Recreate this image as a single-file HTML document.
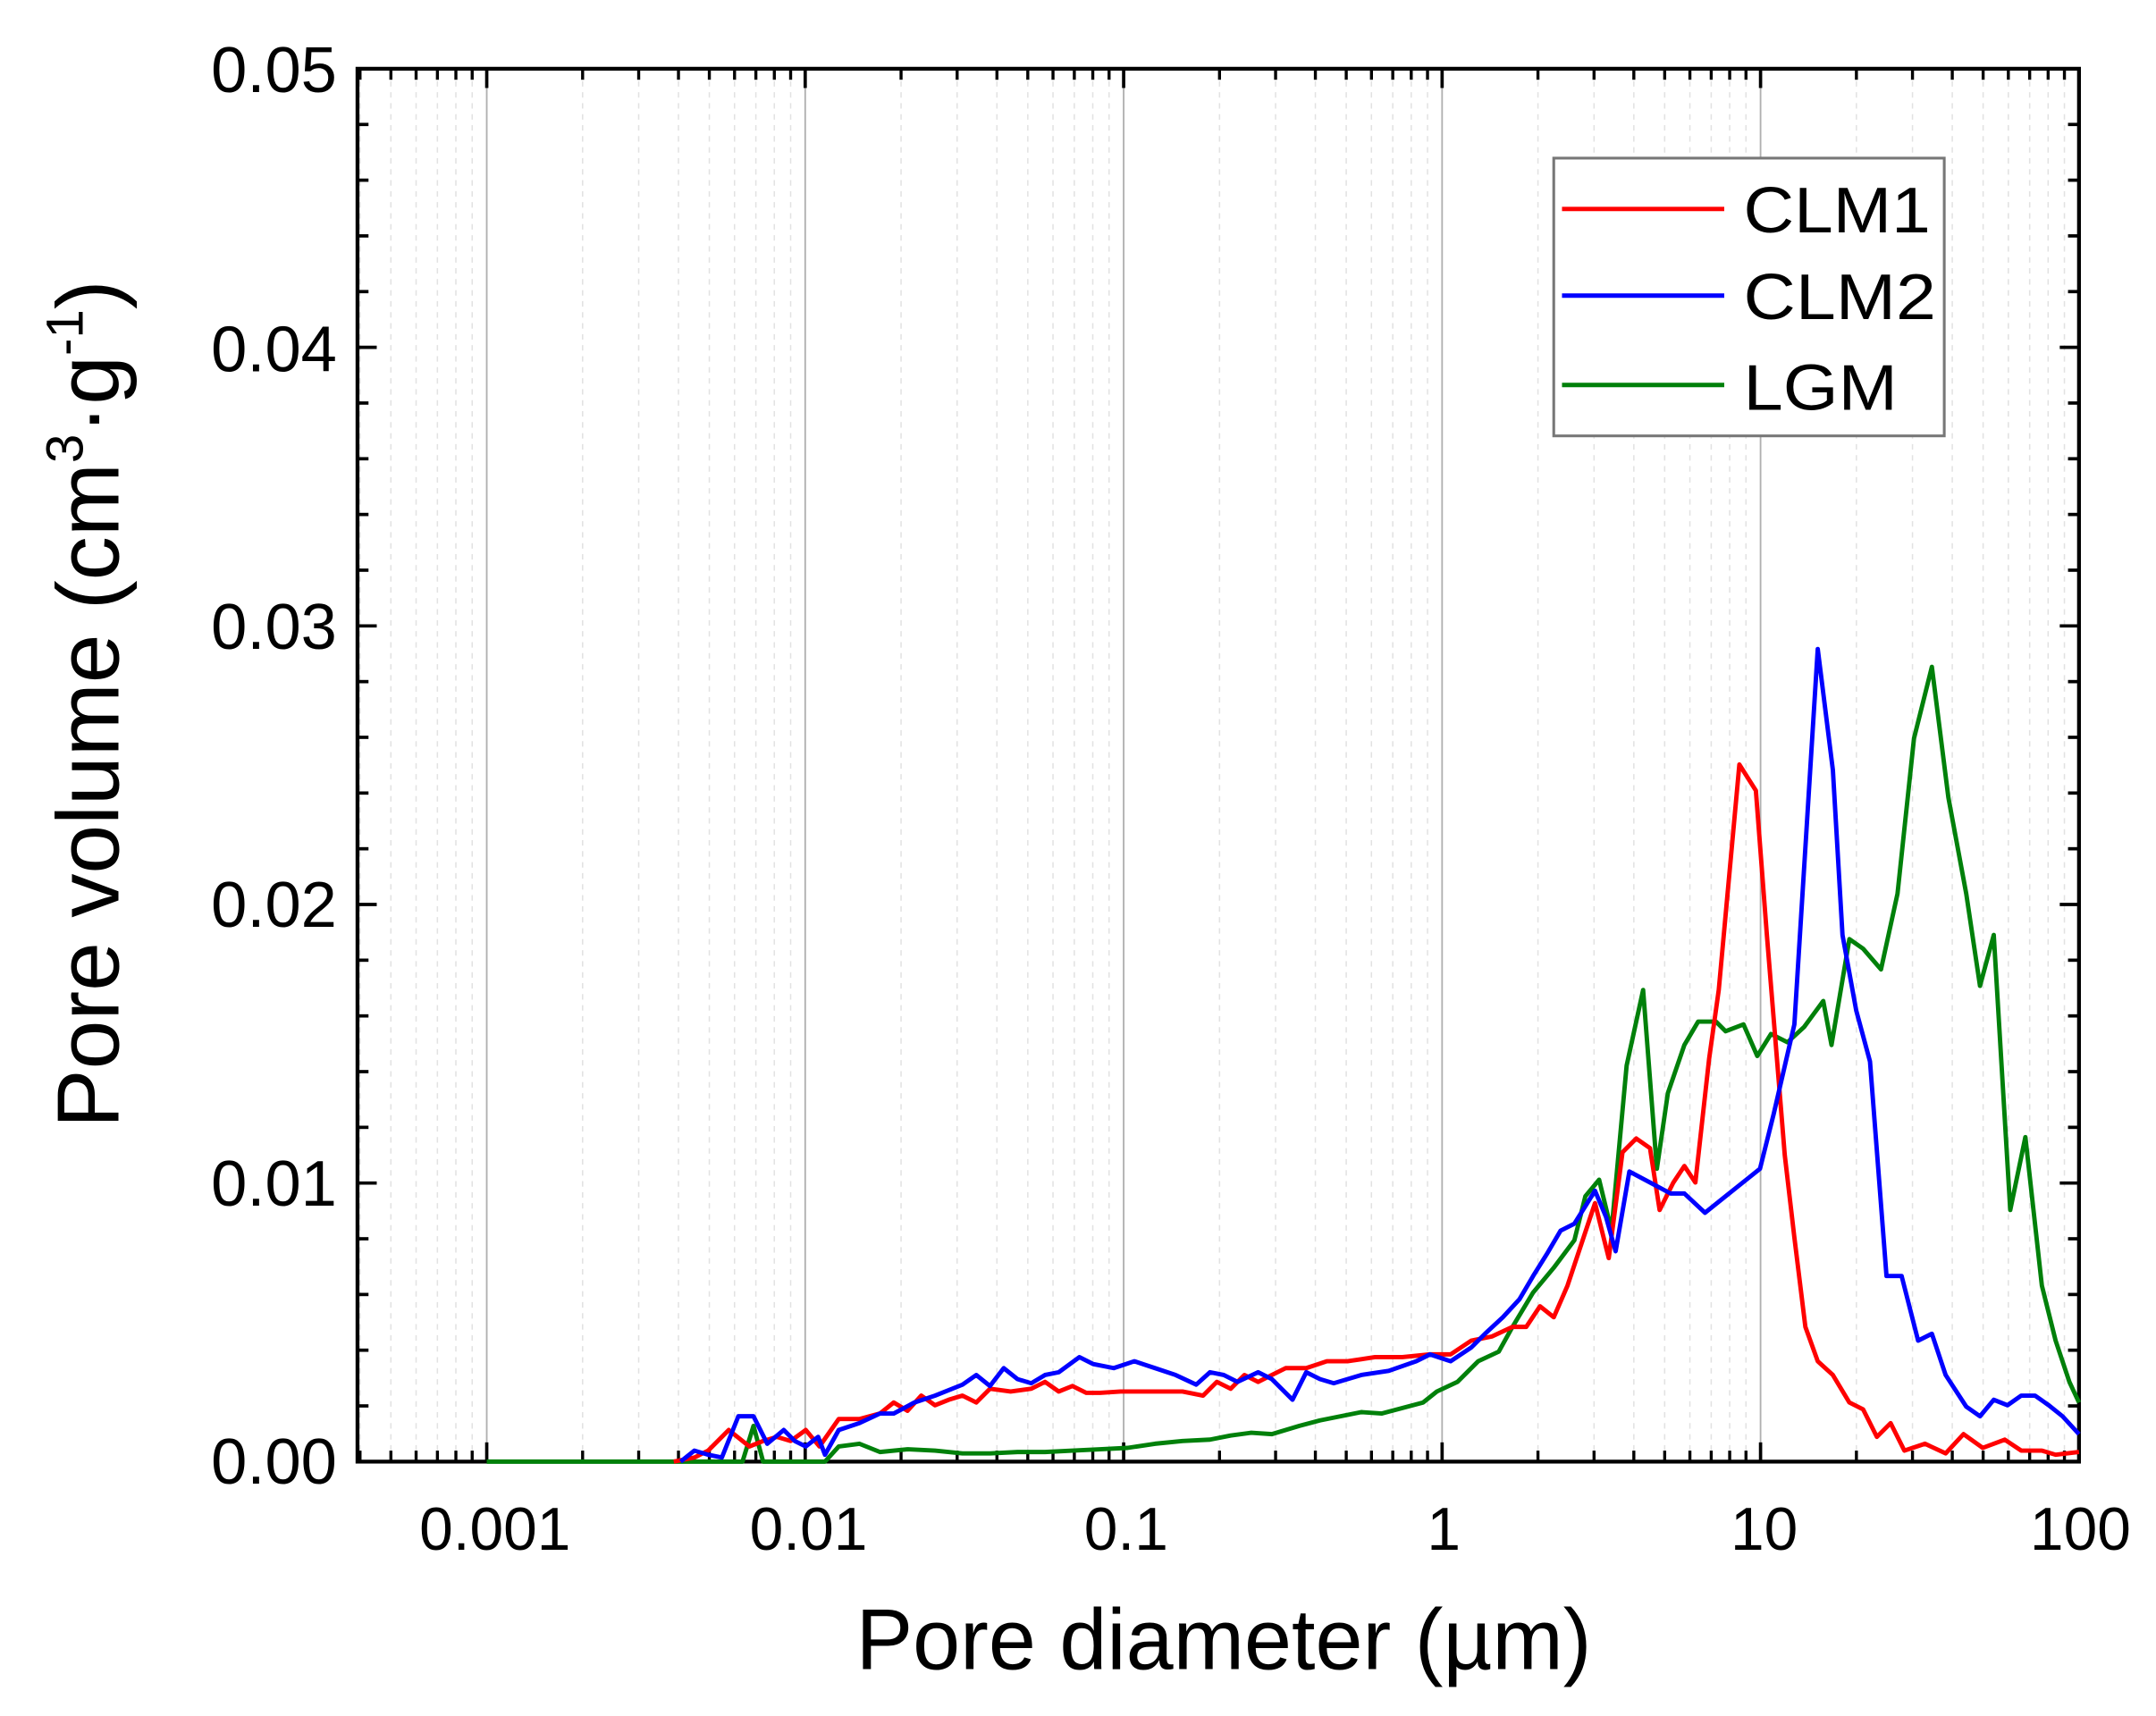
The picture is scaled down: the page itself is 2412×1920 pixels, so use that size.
<!DOCTYPE html>
<html><head><meta charset="utf-8"><style>
html,body{margin:0;padding:0;background:#fff;}
svg{display:block;}
text{font-family:"Liberation Sans",Arial,sans-serif;fill:#000;}
</style></head><body>
<svg id="s" width="2412" height="1920" viewBox="0 0 1568 1248" preserveAspectRatio="none" xmlns="http://www.w3.org/2000/svg">
<rect x="0" y="0" width="1568" height="1248" fill="#fff"/>
<g id="grid"></g>
<g id="ticks"></g>
<rect x="260" y="50" width="1252" height="1013" fill="none" stroke="#000" stroke-width="2.8"/>
<g font-size="47" text-anchor="end">
<text x="245" y="1079">0.00</text>
<text x="245" y="877">0.01</text>
<text x="245" y="674">0.02</text>
<text x="245" y="472">0.03</text>
<text x="245" y="270">0.04</text>
<text x="245" y="67">0.05</text>
</g>
<g font-size="44" text-anchor="middle">
<text x="360" y="1127">0.001</text>
<text x="588" y="1127">0.01</text>
<text x="819" y="1127">0.1</text>
<text x="1050" y="1127">1</text>
<text x="1283" y="1127">10</text>
<text x="1513" y="1127">100</text>
</g>
<text x="890" y="1214" font-size="63" text-anchor="middle" textLength="535" lengthAdjust="spacingAndGlyphs">Pore diameter (µm)</text>
<text transform="translate(86,512) rotate(-90)" font-size="64" text-anchor="middle">Pore volume (cm<tspan font-size="38" dy="-26">3</tspan><tspan dy="26">·g</tspan><tspan font-size="38" dy="-26">-1</tspan><tspan dy="26">)</tspan></text>
<g fill="none" stroke-width="3.2" stroke-linejoin="round">
<polyline stroke="#00800a" points="354,1063 540,1063 548,1037 555,1063 600,1063 610,1052 625,1050 640,1056 660,1054 680,1055 700,1057 720,1057 740,1056 760,1056 780,1055 800,1054 820,1053 840,1050 860,1048 880,1047 895,1044 910,1042 925,1043 945,1037 960,1033 975,1030 990,1027 1005,1028 1020,1024 1035,1020 1045,1012 1060,1005 1075,990 1090,983 1100,965 1115,940 1130,922 1145,902 1153,870 1163,858 1172,895 1183,775 1195,720 1205,850 1213,795 1225,760 1235,743 1248,743 1255,750 1268,745 1278,768 1288,752 1300,758 1312,747 1326,728 1332,760 1345,683 1355,690 1368,705 1380,650 1392,537 1405,485 1417,580 1430,650 1440,717 1450,680 1462,880 1473,827 1485,935 1495,975 1505,1005 1512,1020"/>
<polyline stroke="#ff0000" points="490,1063 505,1060 515,1055 530,1040 545,1052 555,1048 565,1045 575,1048 586,1040 596,1052 610,1032 625,1032 640,1028 650,1020 660,1026 670,1015 680,1022 690,1018 700,1015 710,1020 720,1010 735,1012 750,1010 760,1005 770,1012 780,1008 790,1013 800,1013 815,1012 830,1012 845,1012 860,1012 875,1015 885,1005 895,1010 905,1000 915,1005 925,1000 935,995 950,995 965,990 980,990 1000,987 1020,987 1040,985 1055,985 1070,975 1085,972 1100,965 1110,965 1120,950 1130,958 1140,935 1150,905 1160,875 1170,915 1180,838 1190,828 1200,835 1207,880 1217,860 1225,848 1233,860 1243,770 1250,720 1265,556 1277,575 1285,680 1298,840 1305,900 1313,965 1322,990 1333,1000 1345,1020 1355,1025 1365,1045 1375,1035 1385,1055 1400,1050 1415,1057 1428,1043 1442,1053 1458,1047 1470,1055 1485,1055 1495,1058 1512,1056"/>
<polyline stroke="#0000ff" points="495,1063 505,1055 515,1058 525,1060 537,1030 548,1030 558,1050 570,1040 578,1048 586,1052 595,1045 600,1058 610,1040 625,1035 640,1028 650,1028 665,1020 680,1015 700,1007 710,1000 720,1008 730,995 740,1003 750,1006 760,1000 770,998 785,987 795,992 810,995 825,990 840,995 855,1000 870,1007 880,998 890,1000 900,1005 915,998 925,1003 940,1018 950,998 960,1003 970,1006 990,1000 1010,997 1030,990 1040,985 1055,990 1070,980 1080,970 1093,958 1105,945 1115,928 1125,912 1135,895 1145,890 1160,866 1168,885 1175,910 1185,852 1200,860 1215,868 1225,868 1240,882 1255,870 1270,858 1280,850 1290,810 1305,745 1322,472 1333,560 1340,680 1350,735 1360,772 1372,928 1383,928 1395,975 1405,970 1415,1000 1430,1023 1440,1030 1450,1018 1460,1022 1470,1015 1480,1015 1490,1022 1500,1030 1512,1043"/>
</g>
<rect x="1130" y="115" width="284" height="202" fill="#fff" stroke="#777" stroke-width="2"/>
<line x1="1136" y1="152" x2="1254" y2="152" stroke="#ff0000" stroke-width="3.2"/>
<line x1="1136" y1="215" x2="1254" y2="215" stroke="#0000ff" stroke-width="3.2"/>
<line x1="1136" y1="280" x2="1254" y2="280" stroke="#00800a" stroke-width="3.2"/>
<g font-size="47">
<text x="1268" y="169" textLength="136" lengthAdjust="spacingAndGlyphs">CLM1</text>
<text x="1268" y="232" textLength="140" lengthAdjust="spacingAndGlyphs">CLM2</text>
<text x="1268" y="298" textLength="112" lengthAdjust="spacingAndGlyphs">LGM</text>
</g>
</svg>
<script>
(function(){
var NS="http://www.w3.org/2000/svg";
var g=document.getElementById("grid"),t=document.getElementById("ticks");
function L(p,x1,y1,x2,y2,st,w,da){var l=document.createElementNS(NS,"line");l.setAttribute("x1",x1);l.setAttribute("y1",y1);l.setAttribute("x2",x2);l.setAttribute("y2",y2);l.setAttribute("stroke",st);l.setAttribute("stroke-width",w);if(da)l.setAttribute("stroke-dasharray",da);p.appendChild(l);}
var x0=354,dec=231.6;
function X(lg){return x0+(lg+3)*dec;}
for(var d=-4;d<=2;d++){
 for(var k=1;k<=9;k++){
  var lg=d+Math.log10(k);var x=X(lg);
  if(x<=261||x>=1511.5)continue;
  if(k==1){L(g,x,51,x,1062,"#b0b0b0",1.2);L(t,x,1063,x,1049,"#000",2.4);L(t,x,50,x,64,"#000",2.4);}
  else{L(g,x,51,x,1062,"#e2e2e2",1,"4,4");L(t,x,1063,x,1055,"#000",2.2);L(t,x,50,x,58,"#000",2.2);}
 }
}
for(var i=0;i<=25;i++){var y=1063-i*(1013/25);var big=i%5==0;
 L(t,260,y,260+(big?14:8),y,"#000",2.4);L(t,1512,y,1512-(big?14:8),y,"#000",2.4);}
})();
</script>
</body></html>
